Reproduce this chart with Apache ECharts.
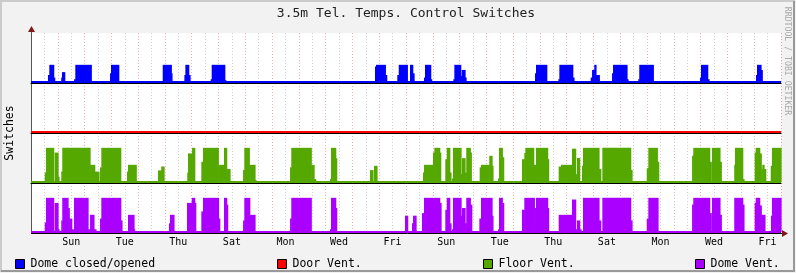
<!DOCTYPE html>
<html>
<head>
<meta charset="utf-8">
<script src="https://cdn.jsdelivr.net/npm/echarts@6/dist/echarts.min.js"></script>
<style>
html,body{margin:0;padding:0;background:#f2f2f2;}
#chart{width:796px;height:273px;}
</style>
</head>
<body>
<div id="chart"></div>
<script>
// ---- data (x = hours since Saturday 00:00, y = switch level; each point holds until the next) ----
const titleText = '3.5m Tel. Temps. Control Switches';
const yAxisName = 'Switches';
const watermark = 'RRDTOOL / TOBI OETIKER';
const dayLabels = ['Sun','Tue','Thu','Sat','Mon','Wed','Fri','Sun','Tue','Thu','Sat','Mon','Wed','Fri'];
const seriesNames = ['Dome closed/opened','Door Vent.','Floor Vent.','Dome Vent.'];
const seriesColors = ['#0000ff','#ff0000','#54a800','#aa00ff'];

const domeClosedOpened = [[0,0],[15.2,0.4],[16.4,1],[20.3,0.25],[21.2,0],[27.1,0.25],[27.8,0.57],[30.2,0],[38.5,0.15],[39.7,1],[54.0,0],[70.8,0.5],[71.7,1],[78.6,0],[118.0,1],[125.7,0.5],[126.3,0],[137.4,0.4],[138.3,1],[141.3,0.4],[142.5,0],[161.0,0.15],[161.9,1],[173.6,0.1],[174.5,0],[308.2,0.9],[309.1,1],[317.5,0.4],[318.7,0],[328.2,0.4],[329.5,1],[337.2,0],[339.6,1],[342.0,0.5],[343.2,0],[352.1,0.25],[353.0,1],[358.1,0.15],[359.0,0],[378.4,0.15],[379.3,1],[385.0,0.35],[385.9,0.7],[388.9,0.25],[389.8,0],[451.6,0.5],[452.5,1],[462.1,0],[472.5,0.15],[473.4,1],[485.4,0.25],[486.5,0],[501.5,0.25],[502.7,0.7],[504.7,1],[506.2,0.4],[509.2,0],[520.6,0.5],[521.5,1],[534.0,0.15],[534.9,0],[544.1,0.15],[545.0,1],[557.6,0],[599.4,0.25],[600.3,1],[606.3,0.15],[607.5,0],[649.6,0.4],[650.5,1],[654.1,0.7],[655.2,0],[672,0]];

const doorVent = [[0,0],[672,0]];

const floorVent = [[0,0],[12.3,0.55],[13.4,2],[20.3,0],[21.2,1.72],[24.2,0.3],[25.1,0],[27.1,0.6],[28.0,2],[52.9,1],[57.1,0.6],[60.9,0],[61.8,0.85],[63.0,2],[80.4,0],[86.0,0.6],[86.9,1],[94.3,0],[113.8,0.67],[116.7,0.9],[119.2,0],[140.0,0.55],[140.7,1.67],[144.3,2],[146.7,0],[152.6,1.18],[154.1,2],[167.8,1],[172.9,2],[175.3,0.75],[178.3,0],[190.0,0.7],[191.1,2],[195.6,1],[200.7,0.1],[201.6,0],[232.1,0.85],[233.2,2],[251.1,1],[253.6,0.16],[255.1,0],[267.9,0.16],[268.8,2],[273.0,1.39],[273.9,0],[303.7,0.69],[306.4,0],[307.3,0.94],[310.0,0],[351.2,0.55],[352.1,1],[360.2,1.72],[361.4,2],[366.2,1.72],[367.1,0],[371.2,1.33],[372.5,2],[375.2,0.55],[376.3,0],[377.2,0.2],[378.1,2],[385.3,0.45],[386.2,1.39],[388.9,0.55],[390.0,2],[393.6,1.72],[394.5,0],[402.0,0.85],[403.2,1],[410.6,1.53],[413.1,0.94],[413.9,0],[418.4,0.2],[419.3,2],[422.3,1.45],[423.5,0],[439.9,1.33],[442.0,1.7],[442.9,2],[450.4,1],[452.5,2],[462.9,1.33],[463.8,0],[472.8,0.9],[474.9,1],[484.7,1.95],[488.0,0.45],[489.2,1.4],[491.6,0],[493.7,0.94],[494.6,2],[508.9,0.75],[510.5,0],[511.9,2],[537.3,0.7],[538.5,0],[551.7,0.8],[553.1,2],[561.2,1.18],[562.4,0],[592.3,1.53],[593.4,2],[608.1,1.18],[609.5,0],[610.2,2],[617.3,1.18],[618.5,0],[630.1,1],[630.8,2],[637.7,0.16],[638.8,0],[648.4,1.72],[649.3,2],[652.9,1.67],[654.3,0.75],[655.2,1],[656.8,0.75],[658.3,0],[662.8,0.94],[663.9,2],[672,2]];

const domeVent = [[0,0],[12.3,0.55],[13.4,2],[20.3,0],[21.2,1.7],[24.2,0.15],[25.1,0],[27.1,0.67],[28.0,2],[33.2,1.4],[34.3,0.78],[36.5,0.15],[38.5,2],[51.1,0.15],[52.9,1],[56.4,0.15],[58.2,0],[61.8,0.78],[63.0,2],[80.4,0.67],[81.5,0],[86.9,1],[92.3,0.15],[92.9,0],[123.6,0.5],[124.5,1],[128.1,0],[139.8,1.7],[144.0,2],[146.7,1.7],[147.6,0],[152.6,1.2],[154.1,2],[168.0,0.78],[169.1,0],[172.9,2],[175.3,1.6],[176.2,0],[190.0,0.67],[191.1,2],[196.0,1],[200.7,0],[232.1,0.78],[233.2,2],[251.1,0],[267.9,0.15],[268.8,2],[273.0,1.4],[273.9,0],[335.1,0.95],[337.5,0],[341.4,0.5],[342.3,0.95],[345.0,0],[350.3,1.1],[352.1,2],[366.2,1.7],[367.4,0],[371.2,1.3],[372.5,2],[375.2,0.5],[376.3,0],[377.2,0.15],[378.1,2],[385.3,0.95],[386.2,1.4],[388.9,0.5],[390.0,2],[393.6,1.6],[394.9,0],[401.7,0.78],[403.2,2],[413.1,0.95],[413.9,0],[418.4,0.15],[419.3,2],[422.3,1.7],[423.5,0],[439.9,1.3],[442.0,2],[451.0,1.4],[452.5,2],[462.9,1.4],[463.8,0],[472.8,1],[484.7,1.9],[488.0,0.15],[489.2,0.67],[491.6,0.15],[492.8,0],[494.6,2],[508.9,0.67],[510.5,0],[511.9,2],[537.3,0.67],[538.5,0],[551.7,0.78],[553.1,2],[561.8,0],[592.3,1.6],[593.4,2],[608.1,1.1],[609.5,0],[610.2,2],[617.3,1],[618.5,0],[630.1,2],[637.7,1.6],[638.8,0],[648.4,1.7],[649.3,2],[652.9,1.55],[654.3,1],[657.6,0],[663.0,0.95],[663.9,2],[672,2]];

// lanes from top to bottom
const laneSeries = [domeClosedOpened, doorVent, floorVent, domeVent];

// ---- layout / styling ----
const HOURS = 672;
const laneSpan = 50 / 17;        // lane height in level units
const lift = 0.07;               // keep coloured baseline just above black rule
const mono = 'DejaVu Sans Mono';
const laneTop = 33, laneH = 50;

// step segments [start, end, value] built from the points
const toSegments = pts => pts.slice(0, -1).map((p, k) => [p[0], pts[k + 1][0], p[1]]);

const grids = [], xAxes = [], yAxes = [], series = [];
laneSeries.forEach((d, i) => {
  const last = i === laneSeries.length - 1;
  const color = seriesColors[i];
  grids.push({left: 31, right: 15, top: laneTop + i * laneH, height: laneH,
              show: true, backgroundColor: '#ffffff', borderWidth: 0});
  xAxes.push({
    gridIndex: i, type: 'value', min: 0, max: HOURS, interval: 12,
    axisLine: {show: !last, onZero: false, lineStyle: {color: '#000', width: 1}},
    axisTick: {show: false},
    axisLabel: {
      show: last, fontFamily: mono, fontSize: 10, color: '#000', margin: 4,
      formatter: v => ((v - 36) % 48 === 0 && v >= 36) ? dayLabels[(v - 36) / 48] : ''
    },
    splitLine: {
      show: true, showMinLine: true, showMaxLine: true,
      lineStyle: {color: ['rgba(222,72,64,0.42)', 'rgba(143,143,143,0.42)'], width: 1, type: [1, 2]}
    }
  });
  yAxes.push({
    gridIndex: i, type: 'value', min: -lift, max: laneSpan - lift,
    axisLine: {show: true, onZero: false, lineStyle: {color: '#555', width: 1}},
    axisTick: {show: false}, axisLabel: {show: false}, splitLine: {show: false}
  });
  series.push({
    name: seriesNames[i], type: 'custom', silent: true,
    xAxisIndex: i, yAxisIndex: i, color: color,
    data: toSegments(d),
    encode: {x: [0, 1], y: 2},
    renderItem: (params, api) => {
      const v = api.value(2);
      if (!(v > 0)) return null;
      const a = api.coord([api.value(0), v]);
      const b = api.coord([api.value(1), 0]);
      return {type: 'rect', shape: {x: a[0], y: a[1], width: b[0] - a[0] + 0.6, height: b[1] - a[1]},
              style: {fill: color, stroke: null}};
    },
    markLine: {
      silent: true, symbol: 'none', label: {show: false}, animation: false,
      lineStyle: {color: color, width: 2, type: 'solid'},
      data: [{yAxis: 0}]
    },
    z: 3
  });
});

const legends = seriesNames.map((n, k) => ({
  data: [n], left: [10, 272, 478, 690][k], top: 253,
  icon: 'rect', itemWidth: 9, itemHeight: 9, itemGap: 0,
  itemStyle: {color: seriesColors[k], borderColor: '#000', borderWidth: 1},
  selectedMode: false,
  textStyle: {fontFamily: mono, fontSize: 11.5, color: '#000', padding: [0, 0, 0, 1]}
}));

const chart = echarts.init(document.getElementById('chart'), null, {renderer: 'canvas'});
chart.setOption({
  backgroundColor: '#f2f2f2',
  animation: false,
  title: {
    text: titleText, left: 401, top: 2, textAlign: 'center',
    textStyle: {fontFamily: mono, fontSize: 13, fontWeight: 'normal', color: '#222'}
  },
  legend: legends,
  grid: grids, xAxis: xAxes, yAxis: yAxes,
  series: series,
  graphic: [
    {type: 'polyline', silent: true, shape: {points: [[1, 272], [1, 1], [795, 1]]}, style: {stroke: '#cbcbcb', lineWidth: 2, fill: null}},
    {type: 'polyline', silent: true, shape: {points: [[1, 271], [794, 271], [794, 1]]}, style: {stroke: '#999', lineWidth: 2, fill: null}},
    {type: 'line', silent: true, z: 100, shape: {x1: 31, y1: 233.5, x2: 784, y2: 233.5}, style: {stroke: '#000', lineWidth: 1}},
    {type: 'polygon', silent: true, z: 100, shape: {points: [[782, 230], [788, 233.5], [782, 237]]}, style: {fill: '#7f1818'}},
    {type: 'line', silent: true, shape: {x1: 31.5, y1: 33, x2: 31.5, y2: 29}, style: {stroke: '#555', lineWidth: 1}},
    {type: 'polygon', silent: true, shape: {points: [[28, 32], [31.5, 26], [35, 32]]}, style: {fill: '#7f1818'}},
    {type: 'text', silent: true, x: 10, y: 133, rotation: Math.PI / 2,
     style: {text: yAxisName, fontFamily: mono, fontSize: 11.5, fill: '#000', align: 'center', verticalAlign: 'middle'}},
    {type: 'text', silent: true, x: 787, y: 61, rotation: -Math.PI / 2,
     style: {text: watermark, fontFamily: mono, fontSize: 8.2, fill: '#a8a8a8', align: 'center', verticalAlign: 'middle'}}
  ]
});
</script>
</body>
</html>
